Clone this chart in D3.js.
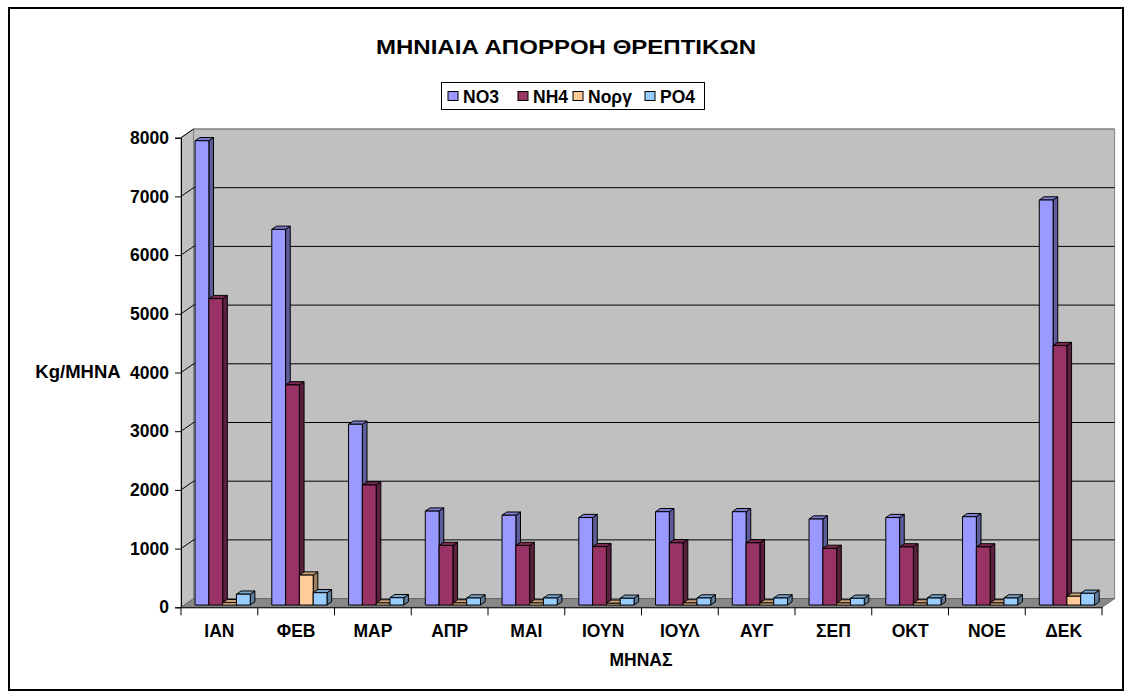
<!DOCTYPE html>
<html>
<head>
<meta charset="utf-8">
<script src="https://cdn.jsdelivr.net/npm/d3@7"></script>
<style>
  html, body { margin: 0; padding: 0; background: #fff; }
  svg { display: block; }
  text { font-family: "Liberation Sans", Arial, sans-serif; font-weight: bold; fill: #000; }
</style>
</head>
<body>
<svg id="chart" width="1131" height="698"></svg>
<script>
// Monthly nutrient runoff (kg per month)
const months = ["ΙΑΝ", "ΦΕΒ", "ΜΑΡ", "ΑΠΡ", "ΜΑΙ", "ΙΟΥΝ", "ΙΟΥΛ", "ΑΥΓ", "ΣΕΠ", "ΟΚΤ", "ΝΟΕ", "ΔΕΚ"];
const seriesNames = ["NO3", "NH4", "Nοργ", "PO4"];
const no3  = [7910, 6400, 3080, 1600, 1530, 1490, 1590, 1590, 1465, 1490, 1505, 6900];
const nh4  = [5220, 3750, 2045, 1015, 1015, 995, 1060, 1060, 965, 990, 990, 4420];
const norg = [40, 510, 35, 35, 35, 30, 35, 35, 35, 35, 35, 150];
const po4  = [185, 210, 125, 120, 120, 115, 120, 120, 115, 120, 120, 200];
const yTicks = [0, 1000, 2000, 3000, 4000, 5000, 6000, 7000, 8000];
const colors = ["#9999FF", "#993366", "#FFCC99", "#99CCFF"];

const seriesValues = [no3, nh4, norg, po4];

const svg = d3.select("#chart");

// plot box (front plane) and 3D depth vector
const plotLeft = 181, plotRight = 1102, plotTop = 137.7, plotBottom = 607.3;
const depth = { dx: 12.6, dy: -8.7 };
const barFront = 0.26;   // fraction of depth where bar front faces sit
const barDepth = 0.37;   // bar thickness as fraction of depth

const x = d3.scaleBand().domain(months).range([plotLeft, plotRight]).paddingInner(0).paddingOuter(0);
const inner = d3.scaleBand().domain(seriesNames).range([0, x.bandwidth()])
  .paddingInner(0).paddingOuter(0.78);
const y = d3.scaleLinear().domain([0, 8000]).range([plotBottom, plotTop]);

// outer frame
svg.append("rect").attr("x", 9).attr("y", 8).attr("width", 1114).attr("height", 682)
  .attr("fill", "#fff").attr("stroke", "#000").attr("stroke-width", 2);

// title
svg.append("text").attr("x", 566).attr("y", 54).attr("text-anchor", "middle")
  .attr("font-size", 21).attr("textLength", 380).attr("lengthAdjust", "spacingAndGlyphs")
  .text("ΜΗΝΙΑΙΑ ΑΠΟΡΡΟΗ ΘΡΕΠΤΙΚΩΝ");

// walls
const bx = depth.dx, by = depth.dy;
const walls = svg.append("g");
// left side wall
walls.append("polygon")
  .attr("points", [[plotLeft, plotBottom], [plotLeft, plotTop], [plotLeft + bx, plotTop + by], [plotLeft + bx, plotBottom + by]].join(" "))
  .attr("fill", "#C0C0C0").attr("stroke", "#808080").attr("stroke-width", 1);
// back wall
walls.append("polygon")
  .attr("points", [[plotLeft + bx, plotBottom + by], [plotLeft + bx, plotTop + by], [plotRight + bx, plotTop + by], [plotRight + bx, plotBottom + by]].join(" "))
  .attr("fill", "#C0C0C0").attr("stroke", "#808080").attr("stroke-width", 1);
// floor
walls.append("polygon")
  .attr("points", [[plotLeft, plotBottom], [plotRight, plotBottom], [plotRight + bx, plotBottom + by], [plotLeft + bx, plotBottom + by]].join(" "))
  .attr("fill", "#888888").attr("stroke", "#666").attr("stroke-width", 1);

// gridlines on back wall and side wall
const grid = svg.append("g");
yTicks.filter(t => t > 0).forEach(t => {
  const yy = y(t);
  grid.append("line").attr("x1", plotLeft + bx).attr("x2", plotRight + bx)
    .attr("y1", yy + by).attr("y2", yy + by).attr("stroke", t === 8000 ? "#808080" : "#000").attr("stroke-width", 1);
  grid.append("line").attr("x1", plotLeft).attr("x2", plotLeft + bx)
    .attr("y1", yy).attr("y2", yy + by).attr("stroke", "#000").attr("stroke-width", 1);
});

// bars
const fx = barFront * bx, fy = barFront * by;
const ddx = barDepth * bx, ddy = barDepth * by;
const bars = svg.append("g").attr("stroke", "#000").attr("stroke-width", 1).attr("stroke-linejoin", "round");
months.forEach((m, i) => {
  seriesNames.forEach((s, j) => {
    const v = seriesValues[j][i];
    const x0 = x(m) + inner(s) + fx;
    const w = inner.bandwidth();
    const y0 = y(0) + fy, y1 = y(v) + fy;
    const c = d3.color(colors[j]);
    const g = bars.append("g");
    g.append("polygon")
      .attr("points", [[x0 + w, y1], [x0 + w + ddx, y1 + ddy], [x0 + w + ddx, y0 + ddy], [x0 + w, y0]].join(" "))
      .attr("fill", c.darker(1.4));
    g.append("polygon")
      .attr("points", [[x0, y1], [x0 + ddx, y1 + ddy], [x0 + w + ddx, y1 + ddy], [x0 + w, y1]].join(" "))
      .attr("fill", c.darker(0.6));
    g.append("rect").attr("x", x0).attr("y", y1).attr("width", w).attr("height", y0 - y1)
      .attr("fill", colors[j]);
  });
});

// y axis
const yAxis = svg.append("g").attr("transform", `translate(${plotLeft},0)`)
  .call(d3.axisLeft(y).tickValues(yTicks).tickSize(6).tickPadding(6).tickFormat(d3.format("d")));
yAxis.select(".domain").attr("stroke", "#000");
yAxis.selectAll(".tick line").attr("stroke", "#000");
yAxis.selectAll("text").attr("font-size", 17.5).attr("font-family", null).attr("font-weight", "bold").attr("fill", "#000");

// x axis
const xAxis = svg.append("g").attr("transform", `translate(0,${plotBottom})`)
  .call(d3.axisBottom(x).tickSize(0).tickPadding(17));
xAxis.select(".domain").attr("stroke", "#000");
xAxis.selectAll("text").attr("font-size", 17.5).attr("font-family", null).attr("font-weight", "bold").attr("fill", "#000");
const boundaries = months.map(m => x(m)).concat([plotRight]);
xAxis.selectAll(".sep").data(boundaries).join("line").attr("class", "sep")
  .attr("x1", d => d).attr("x2", d => d).attr("y1", 0).attr("y2", 8).attr("stroke", "#000");

// axis titles
svg.append("text").attr("x", 78).attr("y", 378).attr("text-anchor", "middle")
  .attr("font-size", 18.5).text("Kg/ΜΗΝΑ");
svg.append("text").attr("x", 641).attr("y", 666).attr("text-anchor", "middle")
  .attr("font-size", 17.5).text("ΜΗΝΑΣ");

// legend
const lg = svg.append("g");
lg.append("rect").attr("x", 441.5).attr("y", 82.5).attr("width", 263).attr("height", 27)
  .attr("fill", "#fff").attr("stroke", "#000");
const legendX = [448, 518, 573, 645];
seriesNames.forEach((s, j) => {
  lg.append("rect").attr("x", legendX[j]).attr("y", 91.5).attr("width", 10).attr("height", 9)
    .attr("fill", colors[j]).attr("stroke", "#000");
  lg.append("text").attr("x", legendX[j] + 15).attr("y", 102.5).attr("font-size", 17.5).text(s);
});
</script>
</body>
</html>
